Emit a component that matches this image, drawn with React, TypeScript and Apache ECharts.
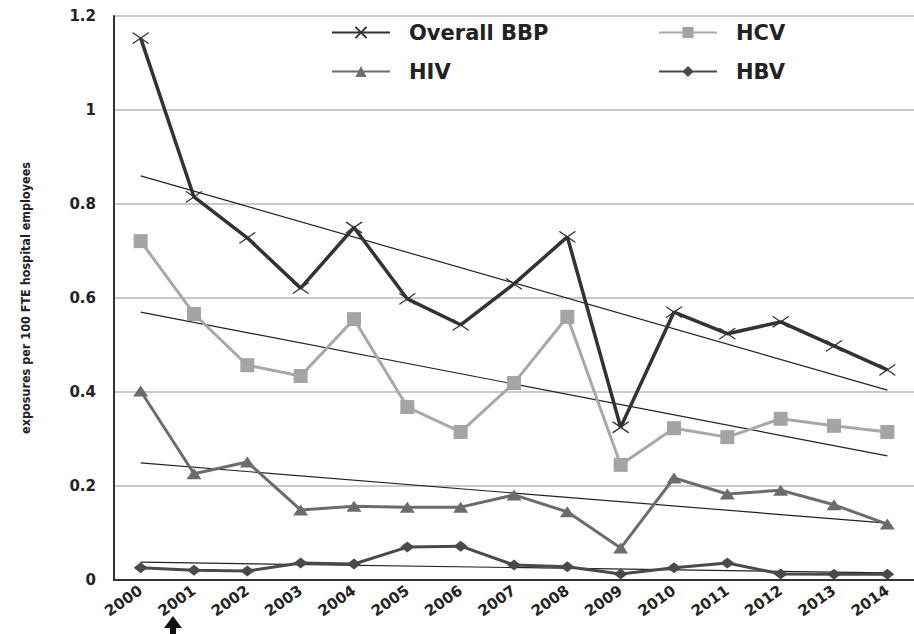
import React, { useEffect, useRef } from "react";
import * as echarts from "echarts";

const years = ["2000","2001","2002","2003","2004","2005","2006","2007","2008","2009","2010","2011","2012","2013","2014"];
const overallBBP = [1.153, 0.815, 0.728, 0.621, 0.75, 0.598, 0.543, 0.63, 0.73, 0.325, 0.57, 0.524, 0.549, 0.498, 0.447];
const hcv = [0.721, 0.566, 0.457, 0.434, 0.555, 0.368, 0.315, 0.419, 0.56, 0.245, 0.323, 0.304, 0.343, 0.328, 0.315];
const hiv = [0.402, 0.226, 0.251, 0.149, 0.157, 0.155, 0.155, 0.181, 0.145, 0.068, 0.217, 0.183, 0.191, 0.16, 0.119];
const hbv = [0.026, 0.021, 0.019, 0.036, 0.034, 0.07, 0.072, 0.032, 0.028, 0.013, 0.026, 0.036, 0.013, 0.012, 0.012];
// trend line endpoints (2000, 2014)
const trendBBP = [0.86, 0.404];
const trendHCV = [0.57, 0.264];
const trendHIV = [0.249, 0.121];
const trendHBV = [0.038, 0.015];
const yTickLabels = ["0", "0.2", "0.4", "0.6", "0.8", "1", "1.2"];

const xSymbol = "path://M0,0L10,8M10,0L0,8";
const wideFont = "DejaVu Sans, Verdana, sans-serif";

function trendData(ends: number[]) {
  return years.map((y, i) => (i === 0 ? ends[0] : i === years.length - 1 ? ends[1] : null));
}

export default function App() {
  const ref = useRef<HTMLDivElement>(null);
  useEffect(() => {
    if (!ref.current) return;
    const chart = echarts.init(ref.current, null, { renderer: "svg" });
    const legendText = { fontSize: 21, fontWeight: "bold" as const, color: "#222", fontFamily: wideFont, padding: [0, 0, 0, 14] };
    const mkLegend = (name: string, left: number, top: number) => ({
      data: [name], left, top, orient: "horizontal", itemWidth: 58, itemHeight: 14, padding: 0,
      textStyle: legendText, selectedMode: false,
    });
    const trendSeries = (name: string, ends: number[]) => ({
      name, type: "line", data: trendData(ends), connectNulls: true, showSymbol: false, symbol: "none",
      lineStyle: { color: "#222", width: 1.2 }, z: 1, silent: true,
    });
    chart.setOption({
      animation: false,
      backgroundColor: "#fff",
      grid: { left: 114, right: -12, top: 16, bottom: 54 },
      legend: [
        mkLegend("Overall BBP", 331, 22),
        mkLegend("HCV", 658, 22),
        mkLegend("HIV", 331, 61),
        mkLegend("HBV", 658, 61),
      ],
      xAxis: {
        type: "category", data: years, boundaryGap: true,
        axisLine: { lineStyle: { color: "#333", width: 2 } },
        axisTick: { show: false },
        axisLabel: { rotate: 35, interval: 0, fontSize: 15, fontWeight: "bold", color: "#222", margin: 9, fontFamily: wideFont },
      },
      yAxis: {
        type: "value", min: 0, max: 1.2, interval: 0.2,
        name: "exposures per 100 FTE hospital employees", nameLocation: "middle", nameGap: 82,
        nameTextStyle: { fontSize: 12.5, fontWeight: "bold", color: "#222", fontFamily: "Liberation Sans Narrow, DejaVu Sans Condensed, DejaVu Sans, sans-serif" },
        axisLine: { show: true, lineStyle: { color: "#333", width: 2 } },
        axisTick: { show: false },
        splitLine: { lineStyle: { color: "#b8b8b8", width: 1.5 } },
        axisLabel: {
          fontSize: 15, fontWeight: "bold", color: "#222", margin: 18, fontFamily: wideFont,
          formatter: (v: number) => yTickLabels[Math.round(v / 0.2)] ?? String(v),
        },
      },
      graphic: [
        { type: "polygon", shape: { points: [[164, 628], [173, 616], [182, 628]] }, style: { fill: "#111" } },
        { type: "rect", shape: { x: 170, y: 626, width: 6, height: 12 }, style: { fill: "#111" } },
      ],
      series: [
        trendSeries("t1", trendBBP),
        trendSeries("t2", trendHCV),
        trendSeries("t3", trendHIV),
        trendSeries("t4", trendHBV),
        {
          name: "Overall BBP", type: "line", data: overallBBP, symbol: xSymbol, symbolSize: [16, 11],
          lineStyle: { color: "#333", width: 3.5 }, itemStyle: { color: "#333", borderColor: "#333", borderWidth: 1.3 }, z: 5,
        },
        {
          name: "HCV", type: "line", data: hcv, symbol: "rect", symbolSize: 14,
          lineStyle: { color: "#a8a8a8", width: 3 }, itemStyle: { color: "#a4a4a4" }, z: 4,
        },
        {
          name: "HIV", type: "line", data: hiv, symbol: "triangle", symbolSize: [15, 11],
          lineStyle: { color: "#6c6c6c", width: 3 }, itemStyle: { color: "#6c6c6c" }, z: 4,
        },
        {
          name: "HBV", type: "line", data: hbv, symbol: "diamond", symbolSize: [14, 11],
          lineStyle: { color: "#4a4a4a", width: 3 }, itemStyle: { color: "#4a4a4a" }, z: 4,
        },
      ],
    });
    return () => chart.dispose();
  }, []);
  return <div ref={ref} style={{ width: 914, height: 634, position: "absolute", left: 0, top: 0 }} />;
}
